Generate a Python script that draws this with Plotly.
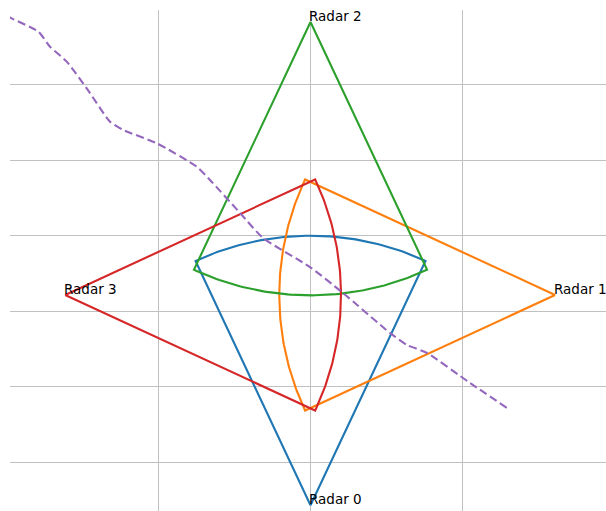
import numpy as np
import plotly.graph_objects as go

# ---- data ----
radar_names = ["Radar 0", "Radar 1", "Radar 2", "Radar 3"]
radar_x = [0.0, 3.21, 0.0, -3.22]
radar_y = [-2.57, 0.215, 3.83, 0.215]
radar_range = [3.57, 3.62, 3.62, 3.62]
radar_azimuth_deg = [90, 180, 270, 0]
radar_half_width_deg = [25, 25, 25, 25]
radar_colors = ["#1f77b4", "#ff7f0e", "#2ca02c", "#d62728"]

track_x = [-3.98, -3.923, -3.572, -3.419, -3.199, -2.937, -2.631, -2.457, -2.018,
           -1.493, -1.319, -0.925, -0.623, -0.007, 0.427, 1.043, 1.266, 1.529,
           2.093, 2.579]
track_y = [3.91, 3.879, 3.702, 3.503, 3.305, 2.952, 2.510, 2.400, 2.224,
           1.914, 1.738, 1.301, 0.970, 0.585, 0.241, -0.288, -0.447, -0.553,
           -0.950, -1.281]

x_grid = [-2, 0, 2]
y_grid = [-2, -1, 0, 1, 2, 3]

fig = go.Figure()

for name, rx, ry, rr, az, hw, col in zip(radar_names, radar_x, radar_y, radar_range,
                                         radar_azimuth_deg, radar_half_width_deg, radar_colors):
    ang = np.radians(np.linspace(az - hw, az + hw, 80))
    xs = np.concatenate([[rx], rx + rr * np.cos(ang), [rx]])
    ys = np.concatenate([[ry], ry + rr * np.sin(ang), [ry]])
    fig.add_trace(go.Scatter(x=xs, y=ys, mode="lines",
                             line=dict(color=col, width=2.1), showlegend=False,
                             hoverinfo="skip"))

fig.add_trace(go.Scatter(x=track_x, y=track_y, mode="lines",
                         line=dict(color="#9467bd", width=2.1, dash="8px,4px",
                                   shape="spline", smoothing=0.6),
                         showlegend=False, hoverinfo="skip"))

for name, rx, ry in zip(radar_names, radar_x, radar_y):
    fig.add_annotation(x=rx, y=ry, text=name, showarrow=False,
                       xanchor="left", yanchor="bottom", xshift=-3.5, yshift=-4,
                       font=dict(family="DejaVu Sans", size=13.5, color="#000000"))

fig.update_xaxes(range=[-3.944, 3.878], tickvals=x_grid, showticklabels=False,
                 showgrid=True, gridcolor="#c0c0c0", gridwidth=1.3,
                 zeroline=False, showline=False, ticks="")
fig.update_yaxes(range=[-2.646, 3.989], tickvals=y_grid, showticklabels=False,
                 showgrid=True, gridcolor="#c0c0c0", gridwidth=1.3,
                 zeroline=False, showline=False, ticks="")

fig.update_layout(width=606, height=511,
                  margin=dict(l=10, r=0, t=10, b=0),
                  paper_bgcolor="white", plot_bgcolor="white",
                  showlegend=False)

fig.write_html("out.html",
               config={"displayModeBar": False},
               post_script="document.body.style.margin='0px';"
                           "document.documentElement.style.overflow='hidden';"
                           "document.body.style.overflow='hidden';")
